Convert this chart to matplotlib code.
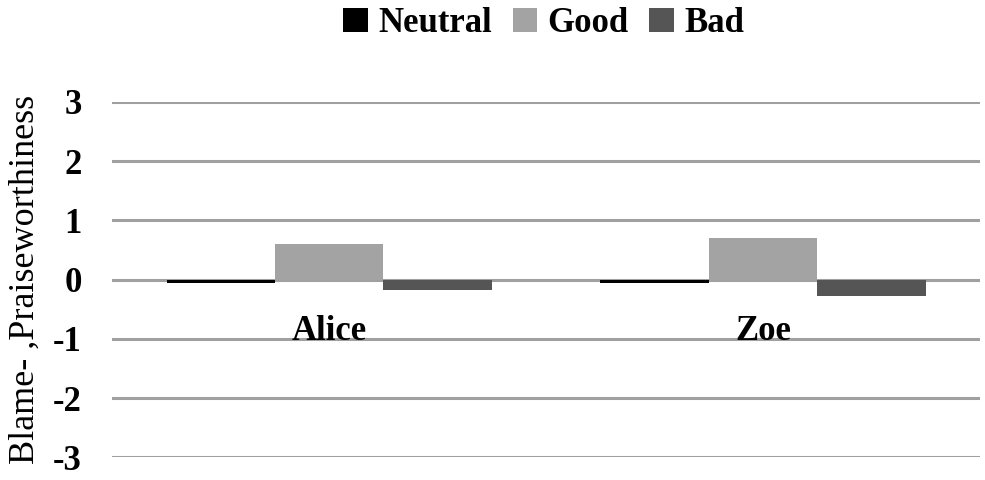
import matplotlib
matplotlib.use("Agg")
import matplotlib.pyplot as plt
import numpy as np
from matplotlib.patches import Patch

categories = ["Alice", "Zoe"]
series = ["Neutral", "Good", "Bad"]
neutral = [-0.06, -0.06]
good = [0.60, 0.70]
bad = [-0.18, -0.28]
yticks = [-3, -2, -1, 0, 1, 2, 3]
colors = ["#000000", "#a3a3a3", "#555555"]

plt.rcParams['font.family'] = ['Liberation Serif', 'DejaVu Serif']

fig = plt.figure(figsize=(9.85, 4.8), dpi=100)
ax = fig.add_axes([0.114, 0.047, 0.881, 0.741])

x = np.arange(len(categories))
w = 0.25
for i, (vals, c) in enumerate(zip([neutral, good, bad], colors)):
    ax.bar(x + (i - 1) * w, vals, width=w, color=c, zorder=3)

ax.set_xlim(-0.5, len(categories) - 0.5)
ax.set_ylim(-3, 3)
ax.set_yticks(yticks)
ax.set_yticklabels([str(t) for t in yticks], fontsize=25, fontweight='bold')
ax.yaxis.grid(True, color='#a0a0a0', linewidth=2.2, zorder=0)
ax.set_xticks([])
for s in ax.spines.values():
    s.set_visible(False)
ax.tick_params(axis='y', length=0, pad=22)

for xi, name in zip(x, categories):
    ax.text(xi, -0.88, name, ha='center', va='center', fontsize=25,
            fontweight='bold', zorder=4)

ax.set_ylabel("Blame- ,Praiseworthiness", fontsize=26, labelpad=8)

handles = [Patch(facecolor=c, edgecolor='none', label=s) for s, c in zip(series, colors)]
fig.legend(handles=handles, loc='upper center', bbox_to_anchor=(0.552, 1.05), ncol=3,
           frameon=False, prop={'size': 25, 'weight': 'bold'},
           handlelength=0.7, handleheight=0.7, handletextpad=0.3, columnspacing=0.6)

fig.savefig("out.png", dpi=100)
